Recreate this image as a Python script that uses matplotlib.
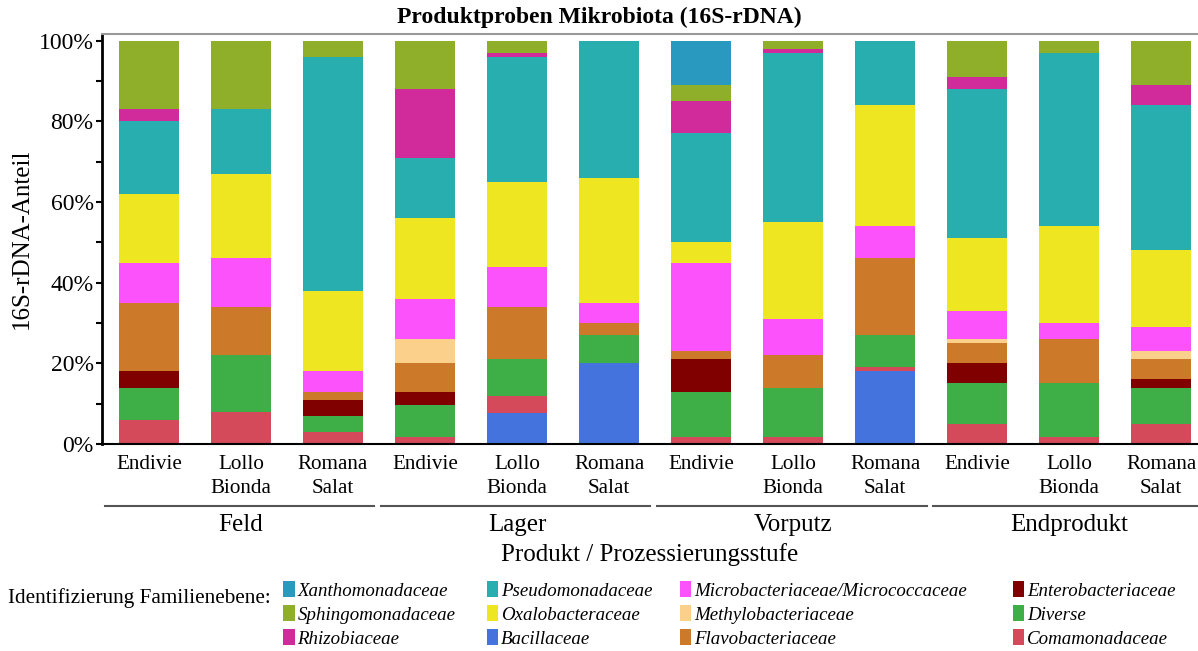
import numpy as np
import matplotlib
matplotlib.use("Agg")
import matplotlib.pyplot as plt
from matplotlib.patches import Patch
import matplotlib.transforms as mtransforms

plt.rcParams['font.family'] = ['Liberation Serif', 'DejaVu Serif']

# Categories
groups = ['Feld', 'Lager', 'Vorputz', 'Endprodukt']
products = ['Endivie', 'Lollo\nBionda', 'Romana\nSalat']

# Family shares in % (bottom to top), 12 bars: group x product
families = ['Bacillaceae', 'Comamonadaceae', 'Diverse', 'Enterobacteriaceae',
            'Flavobacteriaceae', 'Methylobacteriaceae',
            'Microbacteriaceae/Micrococcaceae', 'Oxalobacteraceae',
            'Pseudomonadaceae', 'Rhizobiaceae', 'Sphingomonadaceae',
            'Xanthomonadaceae']
bacillaceae      = [0, 0, 0, 0, 7.7, 20, 0, 0, 18, 0, 0, 0]
comamonadaceae   = [6, 8, 3, 1.7, 4.3, 0, 1.7, 1.7, 1, 5, 1.7, 5]
diverse          = [8, 14, 4, 8, 9, 7, 11.3, 12.3, 8, 10, 13.3, 9]
enterobact       = [4, 0, 4, 3.3, 0, 0, 8, 0, 0, 5, 0, 2]
flavobact        = [17, 12, 2, 7, 13, 3, 2, 8, 19, 5, 11, 5]
methylobact      = [0, 0, 0, 6, 0, 0, 0, 0, 0, 1, 0, 2]
microbact        = [10, 12, 5, 10, 10, 5, 22, 9, 8, 7, 4, 6]
oxalobact        = [17, 21, 20, 20, 21, 31, 5, 24, 30, 18, 24, 19]
pseudomonad      = [18, 16, 58, 15, 31, 34, 27, 42, 16, 37, 43, 36]
rhizobiaceae     = [3, 0, 0, 17, 1, 0, 8, 1, 0, 3, 0, 5]
sphingomonad     = [17, 17, 4, 12, 3, 0, 4, 2, 0, 9, 3, 11]
xanthomonad      = [0, 0, 0, 0, 0, 0, 11, 0, 0, 0, 0, 0]

series = [bacillaceae, comamonadaceae, diverse, enterobact, flavobact,
          methylobact, microbact, oxalobact, pseudomonad, rhizobiaceae,
          sphingomonad, xanthomonad]
colors = ['#4573DD', '#D44A5A', '#3EAF47', '#800000', '#CC7A2A', '#FAD08A',
          '#FC52FC', '#EEE621', '#29AEB0', '#D02A9B', '#8FAF2A', '#2999BF']

# legend columns (indices into families)
legend_cols = [[11, 10, 9], [8, 7, 0], [6, 5, 4], [3, 2, 1]]
legend_x = [0.2365, 0.4065, 0.5675, 0.8455]

fig = plt.figure(figsize=(11.98, 6.51), dpi=100)
ax = fig.add_axes([0.0851, 0.318, 0.9149, 0.630])

x = np.arange(len(groups) * len(products))
bottom = np.zeros(len(x))
for vals, col in zip(series, colors):
    vals = np.array(vals, dtype=float)
    ax.bar(x, vals, bottom=bottom, width=0.65, color=col, linewidth=0)
    bottom += vals

ax.set_xlim(-0.51, 11.4)
ax.set_ylim(0, 101.7)
ax.set_yticks(np.arange(0, 101, 20))
ax.set_yticks(np.arange(0, 101, 10), minor=True)
ax.set_yticklabels(['%d%%' % v for v in range(0, 101, 20)], fontsize=17)
ax.tick_params(axis='y', which='both', direction='out', length=4, width=1.5,
               pad=2)
ax.set_xticks(x)
ax.set_xticklabels(products * len(groups), fontsize=15.2, linespacing=1.36)
ax.tick_params(axis='x', length=0, pad=8)

ax.spines['right'].set_visible(False)
ax.spines['top'].set_color('#999999')
ax.spines['top'].set_linewidth(1.5)
ax.spines['left'].set_linewidth(2)
ax.spines['bottom'].set_linewidth(1.5)

ax.set_ylabel('16S-rDNA-Anteil', fontsize=18, labelpad=4)

# group brackets
trans = mtransforms.blended_transform_factory(ax.transData, ax.transAxes)
for i, g in enumerate(groups):
    x0, x1 = i * 3 - 0.48, i * 3 + 2.45
    ax.plot([x0, x1], [-0.151, -0.151], color='#555555', lw=1.5,
            transform=trans, clip_on=False)
    ax.text(i * 3 + 1, -0.197, g, transform=trans, ha='center', va='center',
            fontsize=18)

ax.text(0.5, -0.27, 'Produkt / Prozessierungsstufe', transform=ax.transAxes,
        ha='center', va='center', fontsize=18)

fig.text(0.5, 0.973, 'Produktproben Mikrobiota (16S-rDNA)', ha='center',
         va='center', fontsize=17, fontweight='bold')

for cols, lx in zip(legend_cols, legend_x):
    handles = [Patch(facecolor=colors[i], edgecolor='none') for i in cols]
    labels = [families[i] for i in cols]
    leg = fig.legend(handles, labels, loc='upper left',
                     bbox_to_anchor=(lx, 0.107), ncol=1, frameon=False,
                     prop={'style': 'italic', 'size': 13.6},
                     handlelength=0.6, handleheight=0.9, handletextpad=0.15,
                     labelspacing=0.3, borderpad=0, borderaxespad=0)
fig.text(0.007, 0.081, 'Identifizierung Familienebene:', ha='left',
         va='center', fontsize=15.3)

fig.savefig('out.png', dpi=100)
